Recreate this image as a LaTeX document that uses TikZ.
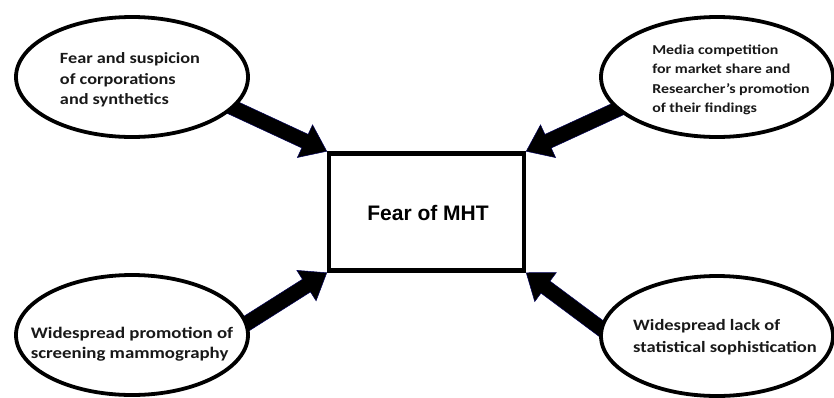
\documentclass[tikz,border=0pt]{standalone}
\usepackage{fontspec}
\setmainfont{Carlito}
\newfontfamily\causefont[FakeStretch=1.17]{Carlito}
\newfontfamily\boxfont{Liberation Sans}
\usetikzlibrary{shapes.geometric,calc}

% block-arrow dimensions
\newcommand\shafthw{7.5pt}
\newcommand\headhw{18pt}
\newcommand\headlen{24pt}

% filled block arrow from tail #1 to tip #2
\newcommand\blockarrow[2]{%
  \coordinate (ba-t) at (#1);
  \coordinate (ba-p) at (#2);
  \coordinate (ba-b) at ($(ba-p)!\headlen!(ba-t)$);
  \filldraw[fatarrow]
    ($(ba-t)!\shafthw!90:(ba-p)$) --
    ($(ba-b)!\shafthw!90:(ba-p)$) --
    ($(ba-b)!\headhw!90:(ba-p)$) --
    (ba-p) --
    ($(ba-b)!\headhw!-90:(ba-p)$) --
    ($(ba-b)!\shafthw!-90:(ba-p)$) --
    ($(ba-t)!\shafthw!-90:(ba-p)$) -- cycle;
}

\tikzset{
  cause/.style={ellipse, draw=black, line width=3.8pt, fill=white,
    minimum width=232pt, minimum height=120pt, inner sep=0pt},
  causetext/.style={align=left, inner sep=0pt, text=black!90},
  centrebox/.style={rectangle, draw=black, line width=4.5pt, fill=white,
    minimum width=195pt, minimum height=117pt, inner sep=0pt},
  fatarrow/.style={fill=black, draw=blue!35!black, line width=0.5pt, line join=miter}
}

\begin{document}
\begin{tikzpicture}[x=1pt,y=-1pt]
\useasboundingbox (0,0) rectangle (834,397);

% centre box
\node[centrebox] (box) at (426.5,212) {};
\node[font=\boxfont\bfseries\fontsize{21}{24}\selectfont] (boxlabel) at (428,213) {Fear of MHT};

% ellipse centres
\coordinate (c1) at (132,77);
\coordinate (c2) at (717,77);
\coordinate (c3) at (132,335);
\coordinate (c4) at (717,336);

% invisible outlines give the arrow tails their anchor points
\path (c1) node[cause, draw=none, fill=none] (e1) {};
\path (c2) node[cause, draw=none, fill=none] (e2) {};
\path (c3) node[cause, draw=none, fill=none] (e3) {};
\path (c4) node[cause, draw=none, fill=none] (e4) {};

% arrows drawn first so the ellipses cover their tails
\blockarrow{$(e1.-17)!-6pt!(box.north west)$}{box.north west}
\blockarrow{$(e2.-162)!-6pt!(box.north east)$}{box.north east}
\blockarrow{$(e3.6)!-6pt!(box.south west)$}{box.south west}
\blockarrow{$(e4.176)!-6pt!(box.south east)$}{box.south east}

\node[cause] (o1) at (c1) {};
\node[cause] (o2) at (c2) {};
\node[cause] (o3) at (c3) {};
\node[cause] (o4) at (c4) {};

\node[causetext, font=\causefont\bfseries\fontsize{15.6}{20.7}\selectfont] (t1) at (130,80)
  {Fear and suspicion\\of corporations\\and synthetics};
\node[causetext, font=\causefont\bfseries\fontsize{13.6}{19.4}\selectfont] (t2) at (731,80)
  {Media competition\\for market share and\\Researcher’s promotion\\of their findings};
\node[causetext, font=\causefont\bfseries\fontsize{16.1}{20}\selectfont] (t3) at (132,344)
  {Widespread promotion of\\screening mammography};
\node[causetext, font=\causefont\bfseries\fontsize{15.8}{21.5}\selectfont] (t4) at (725,337)
  {Widespread lack of\\statistical sophistication};
\end{tikzpicture}
\end{document}
